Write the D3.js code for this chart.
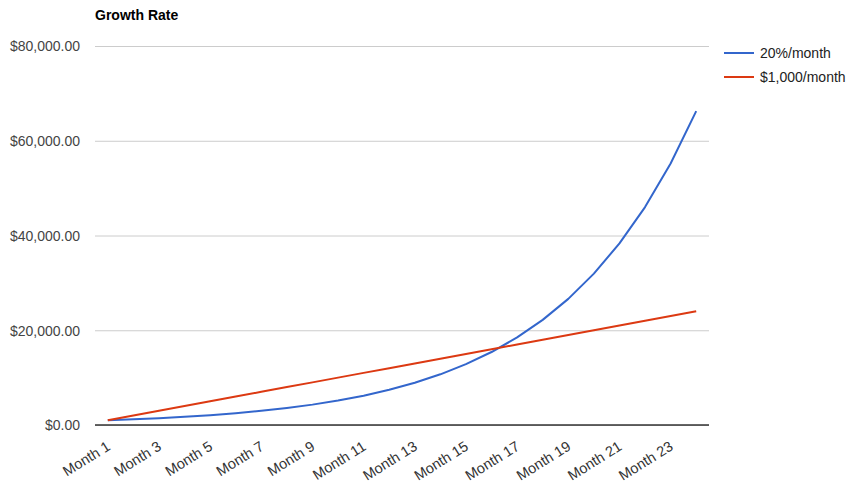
<!DOCTYPE html>
<html>
<head>
<meta charset="utf-8">
<script src="https://cdn.jsdelivr.net/npm/d3@7"></script>
<style>
  body { margin: 0; background: #fff; font-family: Arial, "Liberation Sans", sans-serif; }
  .axis text { font-size: 14px; }
</style>
</head>
<body>
<div class="chart"></div>
<script>
// months on the x axis
const months = ["Month 1","Month 2","Month 3","Month 4","Month 5","Month 6","Month 7","Month 8",
    "Month 9","Month 10","Month 11","Month 12","Month 13","Month 14","Month 15","Month 16",
    "Month 17","Month 18","Month 19","Month 20","Month 21","Month 22","Month 23","Month 24"];

// 20%/month series
const growthValues = [1000, 1200, 1440, 1728, 2073.6, 2488.32, 2985.98, 3583.18, 4299.82, 5159.78,
    6191.74, 7430.08, 8916.10, 10699.32, 12839.18, 15407.02, 18488.43, 22186.11, 26623.33,
    31948.00, 38337.60, 46005.12, 55206.14, 66247.37];

// $1,000/month series
const linearValues = [1000, 2000, 3000, 4000, 5000, 6000, 7000, 8000, 9000, 10000, 11000, 12000,
    13000, 14000, 15000, 16000, 17000, 18000, 19000, 20000, 21000, 22000, 23000, 24000];

const seriesNames = ["20%/month", "$1,000/month"];
const yTicks = [0, 20000, 40000, 60000, 80000];

function draw(){
    const W = 859, H = 492;
    const margin = {top:46, left:95, right:150, bottom:67};
    const width = W - margin.left - margin.right,
        height = H - margin.top - margin.bottom;

    const svg = d3.select('.chart').append('svg')
        .attr("width", W)
        .attr("height", H);

    const g = svg.append("g")
        .attr("transform", "translate(" + margin.left + "," + margin.top + ")");

    const xScale = d3.scalePoint()
        .domain(months)
        .range([0, width])
        .padding(0.5);

    const yScale = d3.scaleLinear()
        .domain([0, 80000])
        .range([height, 0]);

    const colorScale = d3.scaleOrdinal()
        .domain(seriesNames)
        .range(["#3366cc", "#dc3912"]);

    // gridlines + y labels
    const yAxis = d3.axisLeft(yScale)
        .tickValues(yTicks)
        .tickSize(-width)
        .tickPadding(15)
        .tickFormat(d => "$" + d3.format(",.2f")(d));

    g.append("g")
        .attr("class", "axis y-axis")
        .call(yAxis)
        .call(a => a.select(".domain").remove())
        .call(a => a.selectAll("line").attr("stroke", "#cccccc"))
        .call(a => a.selectAll("text").attr("fill", "#444").attr("dy", "0.35em"));

    // x axis labels, every other month
    const xAxis = d3.axisBottom(xScale)
        .tickValues(months.filter((d,i) => i % 2 === 0))
        .tickSize(0)
        .tickPadding(0);

    g.append("g")
        .attr("class", "axis x-axis")
        .attr("transform", `translate(0, ${height})`)
        .call(xAxis)
        .call(a => a.select(".domain").remove())
        .call(a => a.selectAll("text")
            .attr("fill", "#333")
            .attr("text-anchor", "end")
            .attr("dy", null)
            .attr("y", 0)
            .style("font-size", "14.5px")
            .attr("transform", "translate(3,24) rotate(-32)"));

    // baseline
    g.append("line")
        .attr("x1", 0).attr("x2", width)
        .attr("y1", yScale(0)).attr("y2", yScale(0))
        .attr("stroke", "#333")
        .attr("stroke-width", 1.5);

    const line = d3.line()
        .x((d,i) => xScale(months[i]))
        .y(d => yScale(d));

    [growthValues, linearValues].forEach((vals, k) => {
        g.append("path")
            .datum(vals)
            .attr("fill", "none")
            .attr("stroke", colorScale(seriesNames[k]))
            .attr("stroke-width", 2)
            .attr("stroke-linejoin", "round")
            .attr("d", line);
    });

    // title
    svg.append("text")
        .attr("x", margin.left)
        .attr("y", 20)
        .text("Growth Rate")
        .style("font-size", "14px")
        .style("font-weight", "bold")
        .attr("fill", "#000");

    // legend
    const legend = svg.append("g").attr("id", "legend");
    legend.selectAll("line")
        .data(seriesNames)
        .enter()
        .append("line")
        .attr("x1", 724).attr("x2", 754)
        .attr("y1", (d,i) => 53 + i*24)
        .attr("y2", (d,i) => 53 + i*24)
        .attr("stroke", d => colorScale(d))
        .attr("stroke-width", 2);

    legend.selectAll("text")
        .data(seriesNames)
        .enter()
        .append("text")
        .attr("x", 760)
        .attr("y", (d,i) => 58 + i*24)
        .text(d => d)
        .attr("fill", "#222")
        .style("font-size", "14px");
}

draw();
</script>
</body>
</html>
